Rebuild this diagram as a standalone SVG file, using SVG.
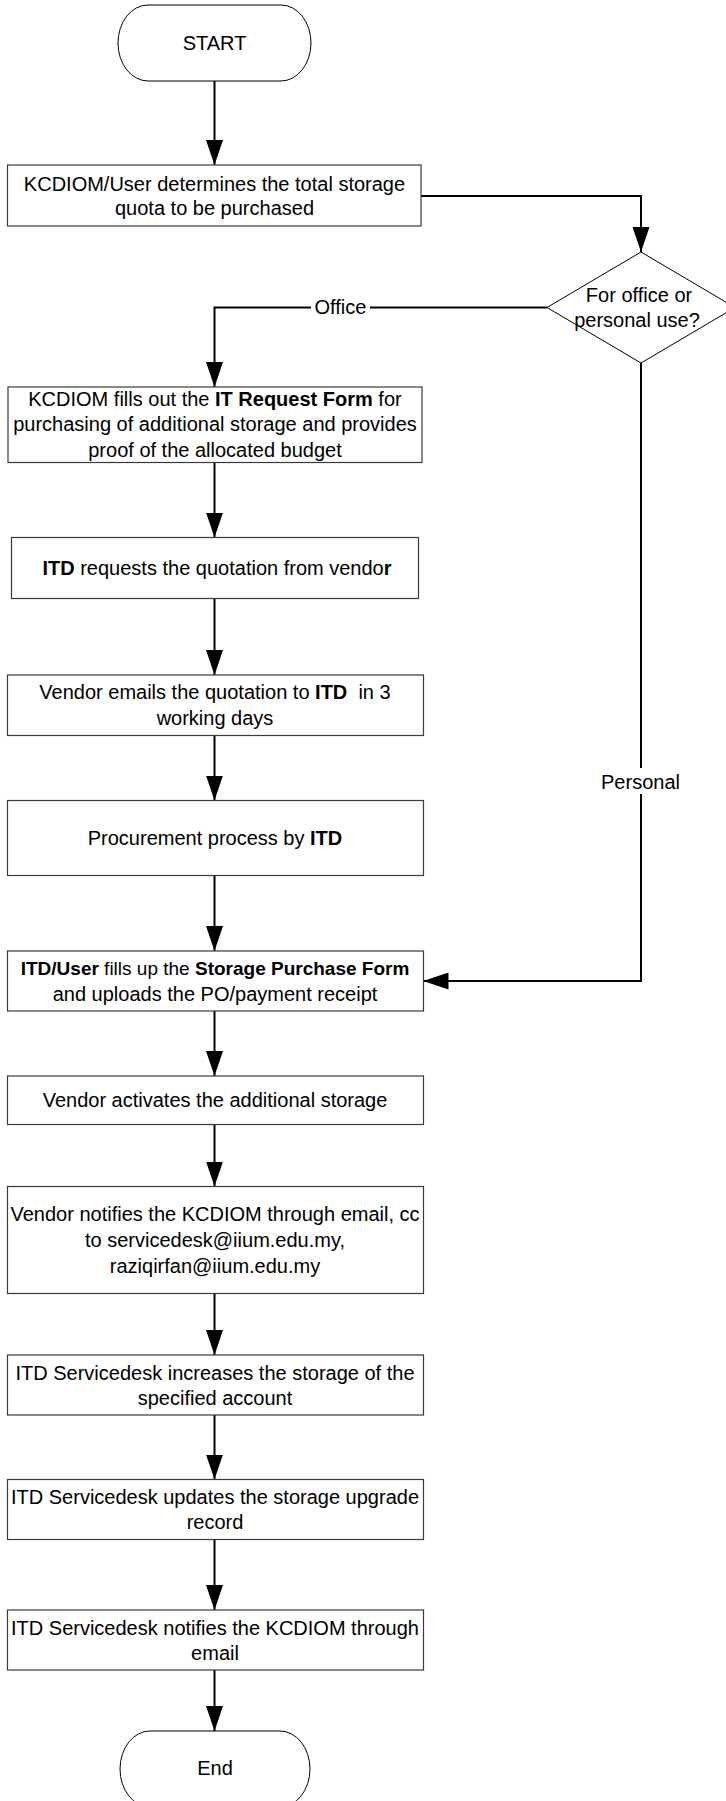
<svg xmlns="http://www.w3.org/2000/svg" width="726" height="1801" viewBox="0 0 726 1801">
<style>
.box{fill:#fff;stroke:#3a3a3a;stroke-width:1.2}
.term{fill:#fff;stroke:#000;stroke-width:1}
.dia{fill:#fff;stroke:#000;stroke-width:1}
.t{font-family:"Liberation Sans",Arial,sans-serif;font-size:20px;fill:#000;text-anchor:middle}
.s{font-size:19px}
.b{font-weight:bold}
.c{fill:none;stroke:#000;stroke-width:2}
.lbg{fill:#fff}
</style>
<defs>
<marker id="ah" viewBox="0 0 25 17" refX="25" refY="8.5" markerWidth="25" markerHeight="17" markerUnits="userSpaceOnUse" orient="auto">
<path d="M0,0 L25,8.5 L0,17 Z" fill="#000"/>
</marker>
</defs>

<g id="connectors">
<path class="c" d="M214.5,81 V165" marker-end="url(#ah)"/>
<path class="c" d="M421,196 H641 V252" marker-end="url(#ah)"/>
<path class="c" d="M547,307.5 H214.5 V387" marker-end="url(#ah)"/>
<path class="c" d="M214.5,462.5 V537.5" marker-end="url(#ah)"/>
<path class="c" d="M214.5,598.5 V675" marker-end="url(#ah)"/>
<path class="c" d="M214.5,735.5 V800.5" marker-end="url(#ah)"/>
<path class="c" d="M214.5,875.5 V951" marker-end="url(#ah)"/>
<path class="c" d="M641,363 V981 H423.5" marker-end="url(#ah)"/>
<path class="c" d="M214.5,1011 V1076" marker-end="url(#ah)"/>
<path class="c" d="M214.5,1124.5 V1186.5" marker-end="url(#ah)"/>
<path class="c" d="M214.5,1293.5 V1355" marker-end="url(#ah)"/>
<path class="c" d="M214.5,1415 V1479.5" marker-end="url(#ah)"/>
<path class="c" d="M214.5,1539.5 V1610" marker-end="url(#ah)"/>
<path class="c" d="M214.5,1670 V1731" marker-end="url(#ah)"/>
<rect class="lbg" x="311" y="297" width="59" height="22"/>
<text class="t" x="340.5" y="314">Office</text>
<rect class="lbg" x="600" y="768" width="82" height="26"/>
<text class="t" x="640.5" y="788.5">Personal</text>
</g>

<g id="start">
<path class="term" d="M148,5 H281 A30,38 0 0 1 281,81 H148 A30,38 0 0 1 148,5 Z"/>
<text class="t" x="214.5" y="50">START</text>
</g>

<g id="determine">
<rect class="box" x="7.5" y="165" width="413.5" height="61"/>
<text class="t" x="214.5" y="190.5">KCDIOM/User determines the total storage</text>
<text class="t" x="214.5" y="215">quota to be purchased</text>
</g>

<g id="decision">
<polygon class="dia" points="641,252 735,307.5 641,363 547,307.5"/>
<text class="t" x="639" y="302">For office or</text>
<text class="t" x="637" y="327">personal use?</text>
</g>

<g id="it-request">
<rect class="box" x="8" y="387" width="414" height="75.5"/>
<text class="t" x="215" y="406">KCDIOM fills out the <tspan class="b">IT Request Form</tspan> for</text>
<text class="t" x="215" y="431">purchasing of additional storage and provides</text>
<text class="t" x="215" y="456.5">proof of the allocated budget</text>
</g>

<g id="quotation-request">
<rect class="box" x="11.5" y="537.5" width="407" height="61"/>
<text class="t" x="217" y="575"><tspan class="b">ITD</tspan> requests the quotation from vendo<tspan class="b">r</tspan></text>
</g>

<g id="vendor-quotation">
<rect class="box" x="7.5" y="675" width="416" height="60.5"/>
<text class="t" x="215" y="699"><tspan>Vendor emails the quotation to </tspan><tspan class="b">ITD</tspan><tspan xml:space="preserve">  in 3</tspan></text>
<text class="t" x="215" y="724.5">working days</text>
</g>

<g id="procurement">
<rect class="box" x="7.5" y="800.5" width="416" height="75"/>
<text class="t" x="215" y="845">Procurement process by <tspan class="b">ITD</tspan></text>
</g>

<g id="purchase-form">
<rect class="box" x="7.5" y="951" width="416" height="60"/>
<text class="t s" x="215" y="975"><tspan class="b">ITD/User</tspan> fills up the <tspan class="b">Storage Purchase Form</tspan></text>
<text class="t" x="215" y="1001">and uploads the PO/payment receipt</text>
</g>

<g id="activate">
<rect class="box" x="7.5" y="1076" width="416" height="48.5"/>
<text class="t" x="215" y="1107">Vendor activates the additional storage</text>
</g>

<g id="vendor-notify">
<rect class="box" x="7.5" y="1186.5" width="416" height="107"/>
<text class="t" x="215" y="1221">Vendor notifies the KCDIOM through email, cc</text>
<text class="t" x="215" y="1247">to servicedesk@iium.edu.my,</text>
<text class="t" x="215" y="1272.5">raziqirfan@iium.edu.my</text>
</g>

<g id="increase">
<rect class="box" x="7.5" y="1355" width="416" height="60"/>
<text class="t" x="215" y="1379.5">ITD Servicedesk increases the storage of the</text>
<text class="t" x="215" y="1404.5">specified account</text>
</g>

<g id="update-record">
<rect class="box" x="7.5" y="1479.5" width="416" height="60"/>
<text class="t" x="215" y="1504">ITD Servicedesk updates the storage upgrade</text>
<text class="t" x="215" y="1529">record</text>
</g>

<g id="notify-kcdiom">
<rect class="box" x="7.5" y="1610" width="416" height="60"/>
<text class="t" x="215" y="1634.5">ITD Servicedesk notifies the KCDIOM through</text>
<text class="t" x="215" y="1660">email</text>
</g>

<g id="end">
<path class="term" d="M150,1731 H280 A30,38 0 0 1 280,1807 H150 A30,38 0 0 1 150,1731 Z"/>
<text class="t" x="215" y="1775">End</text>
</g>
</svg>
